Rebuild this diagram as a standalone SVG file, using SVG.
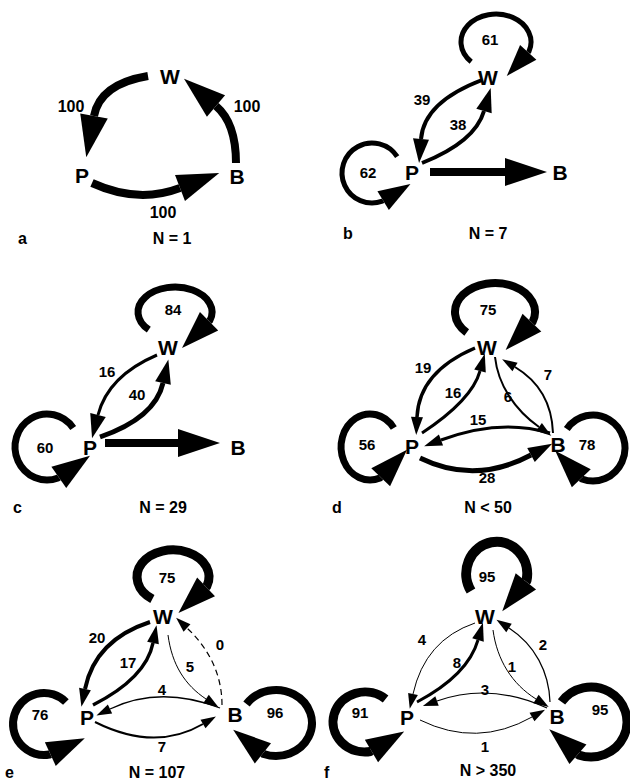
<svg xmlns="http://www.w3.org/2000/svg" width="630" height="783" viewBox="0 0 630 783">
<defs>
<style>
.n{font-family:"Liberation Sans",Arial,sans-serif;font-weight:bold;font-size:21px;text-anchor:middle;fill:#000}
.v{font-family:"Liberation Sans",Arial,sans-serif;font-weight:bold;font-size:15px;text-anchor:middle;fill:#000}
.t{font-family:"Liberation Sans",Arial,sans-serif;font-weight:bold;font-size:16px;fill:#000}
.e{fill:none;stroke:#000;stroke-linejoin:round}
.hXL{marker-end:url(#hXL)}
.hL{marker-end:url(#hL)}
.hM{marker-end:url(#hM)}
.hE{marker-end:url(#hE)}
.hF{marker-end:url(#hF)}
.hS{marker-end:url(#hS)}
</style>
<marker id="hXL" markerUnits="userSpaceOnUse" orient="auto" overflow="visible" markerWidth="1" markerHeight="1" refX="0" refY="0"><path d="M0,-14 L42,0 L0,14 z" fill="#000"/></marker>
<marker id="hL" markerUnits="userSpaceOnUse" orient="auto" overflow="visible" markerWidth="1" markerHeight="1" refX="0" refY="0"><path d="M0,-13 L38,0 L0,13 z" fill="#000"/></marker>
<marker id="hM" markerUnits="userSpaceOnUse" orient="auto" overflow="visible" markerWidth="1" markerHeight="1" refX="0" refY="0"><path d="M0,-11 L32,0 L0,11 z" fill="#000"/></marker>
<marker id="hE" markerUnits="userSpaceOnUse" orient="auto" overflow="visible" markerWidth="1" markerHeight="1" refX="0" refY="0"><path d="M0,-8 L24,0 L0,8 z" fill="#000"/></marker>
<marker id="hF" markerUnits="userSpaceOnUse" orient="auto" overflow="visible" markerWidth="1" markerHeight="1" refX="0" refY="0"><path d="M0,-6 L18,0 L0,6 z" fill="#000"/></marker>
<marker id="hS" markerUnits="userSpaceOnUse" orient="auto" overflow="visible" markerWidth="1" markerHeight="1" refX="0" refY="0"><path d="M0,-5 L15,0 L0,5 z" fill="#000"/></marker>
</defs>
<rect width="630" height="783" fill="#fff"/>

<!-- Panel a -->
<g id="panel-a">
<g id="a-connectors">
<path class="e hXL" stroke-width="8" d="M148,76 Q100,84 94,116"/>
<path class="e hXL" stroke-width="8" d="M236,163 Q236,123 216,106"/>
<path class="e hXL" stroke-width="8" d="M92,183 Q138,204 180,188"/>
<text class="v" style="font-size:16px" x="71" y="112">100</text>
<text class="v" style="font-size:16px" x="247" y="112">100</text>
<text class="v" style="font-size:16px" x="163" y="218">100</text>
</g>
<g id="a-W"><text class="n" x="170" y="84">W</text></g>
<g id="a-P"><text class="n" x="82" y="183">P</text></g>
<g id="a-B"><text class="n" x="237" y="184">B</text></g>
<text class="t" x="18" y="244">a</text>
<text class="t" x="172" y="244" text-anchor="middle">N = 1</text>
</g>

<!-- Panel b -->
<g id="panel-b">
<g id="b-connectors">
<path class="e hM" stroke-width="5" d="M471.2,61.8 A35,28 0 1 1 528.9,51.6 l-0.67,0.74"/>
<path class="e hM" stroke-width="5" d="M397.2,156.7 A30,30 0 1 0 382.3,201.2 l0.85,-0.52"/>
<path class="e hE" stroke-width="4" d="M482,80 Q424,102 421,139"/>
<path class="e hE" stroke-width="4" d="M422,163 Q475,142 484,111"/>
<path class="e hXL" stroke-width="8" d="M430,172 L505,172"/>
<text class="v" x="490" y="45">61</text>
<text class="v" x="368" y="178">62</text>
<text class="v" x="422" y="105">39</text>
<text class="v" x="458" y="130">38</text>
</g>
<g id="b-W"><text class="n" x="488" y="85">W</text></g>
<g id="b-P"><text class="n" x="412" y="180">P</text></g>
<g id="b-B"><text class="n" x="560" y="180">B</text></g>
<text class="t" x="343" y="239">b</text>
<text class="t" x="488" y="239" text-anchor="middle">N = 7</text>
</g>

<!-- Panel c -->
<g id="panel-c">
<g id="c-connectors">
<path class="e hL" stroke-width="7" d="M148.8,329.7 A37,25 0 1 1 209.8,320.6 l-0.71,0.70"/>
<path class="e hL" stroke-width="7" d="M73.2,428 A32,33 0 1 0 58,478 l0.82,-0.57"/>
<path class="e hE" stroke-width="3" d="M157,355 Q108,376 98,415"/>
<path class="e hE" stroke-width="5" d="M100,437 Q155,418 163,383"/>
<path class="e hXL" stroke-width="8" d="M105,443 L178,443"/>
<text class="v" x="173" y="315">84</text>
<text class="v" x="45" y="453">60</text>
<text class="v" x="107" y="377">16</text>
<text class="v" x="137" y="400">40</text>
</g>
<g id="c-W"><text class="n" x="168" y="355">W</text></g>
<g id="c-P"><text class="n" x="90" y="455">P</text></g>
<g id="c-B"><text class="n" x="238" y="455">B</text></g>
<text class="t" x="13" y="513">c</text>
<text class="t" x="163" y="513" text-anchor="middle">N = 29</text>
</g>

<!-- Panel d -->
<g id="panel-d">
<g id="d-connectors">
<path class="e hL" stroke-width="8" d="M466.7,332.5 A40,29 0 1 1 532.6,321.9 l-0.69,0.72"/>
<path class="e hL" stroke-width="7" d="M393.8,428 A29,33 0 1 0 380,478 l0.69,-0.72"/>
<path class="e hL" stroke-width="7" d="M566.8,429 A32,33 0 1 1 582,479 l-0.69,-0.73"/>
<path class="e hF" stroke-width="3.5" d="M475,348 Q419,372 417,417"/>
<path class="e hF" stroke-width="3" d="M422,433 Q472,400 480,371"/>
<path class="e hS" stroke-width="2" d="M495,357 C498,385 515,410 539,427"/>
<path class="e hS" stroke-width="2" d="M553,433 C552,405 540,382 515,367"/>
<path class="e hF" stroke-width="3" d="M550,433 Q500,418 441,440"/>
<path class="e hE" stroke-width="5" d="M420,458 Q475,485 531,455"/>
<text class="v" x="488" y="315">75</text>
<text class="v" x="367" y="450">56</text>
<text class="v" x="587" y="450">78</text>
<text class="v" x="423" y="373">19</text>
<text class="v" x="453" y="398">16</text>
<text class="v" x="508" y="402">6</text>
<text class="v" x="548" y="380">7</text>
<text class="v" x="478" y="425">15</text>
<text class="v" x="487" y="483">28</text>
</g>
<g id="d-W"><text class="n" x="487" y="355">W</text></g>
<g id="d-P"><text class="n" x="412" y="454">P</text></g>
<g id="d-B"><text class="n" x="558" y="452">B</text></g>
<text class="t" x="332" y="513">d</text>
<text class="t" x="488" y="513" text-anchor="middle">N &lt; 50</text>
</g>

<!-- Panel e -->
<g id="panel-e">
<g id="e-connectors">
<path class="e hL" stroke-width="9" d="M152.4,599 A36,27 0 1 1 206.8,586.2 l-0.73,0.69"/>
<path class="e hL" stroke-width="8" d="M65.9,702 A31,31 0 1 0 49.4,754.5 l0.91,-0.42"/>
<path class="e hL" stroke-width="8" d="M246.5,704 A36,33 0 1 1 263.7,754 l-0.78,-0.62"/>
<path class="e hF" stroke-width="4" d="M150,622 Q95,640 85,689"/>
<path class="e hF" stroke-width="3.5" d="M93,705 Q146,678 153,643"/>
<path class="e hS" stroke-width="1" d="M168,635 C172,665 185,685 206,699"/>
<path class="e hS" stroke-width="1.2" stroke-dasharray="6 4" d="M222,705 C222,670 205,645 187,628"/>
<path class="e hS" stroke-width="1.3" d="M220,708 Q160,685 110,709"/>
<path class="e hS" stroke-width="2" d="M95,722 Q155,752 203,724"/>
<text class="v" x="167" y="583">75</text>
<text class="v" x="40" y="720">76</text>
<text class="v" x="275" y="718">96</text>
<text class="v" x="97" y="643">20</text>
<text class="v" x="128" y="668">17</text>
<text class="v" x="190" y="672">5</text>
<text class="v" x="220" y="650">0</text>
<text class="v" x="162" y="695">4</text>
<text class="v" x="162" y="752">7</text>
</g>
<g id="e-W"><text class="n" x="163" y="624">W</text></g>
<g id="e-P"><text class="n" x="87" y="725">P</text></g>
<g id="e-B"><text class="n" x="235" y="722">B</text></g>
<text class="t" x="5" y="778">e</text>
<text class="t" x="157" y="778" text-anchor="middle">N = 107</text>
</g>

<!-- Panel f -->
<g id="panel-f">
<g id="f-connectors">
<path class="e hL" stroke-width="10" d="M471,591 A30.5,32 0 1 1 526.5,580.6 l-0.62,0.78"/>
<path class="e hL" stroke-width="9" d="M385.6,699 A32,30 0 1 0 370.6,751.5 l0.86,-0.51"/>
<path class="e hL" stroke-width="9" d="M561.5,701.9 A36,35 0 1 1 578.7,754.9 l-0.755,-0.655"/>
<path class="e hS" stroke-width="1" d="M475,623 Q425,640 413,694"/>
<path class="e hF" stroke-width="3" d="M417,702 Q468,675 478,640"/>
<path class="e hS" stroke-width="1" d="M493,630 C497,660 512,684 536,699"/>
<path class="e hS" stroke-width="1.2" d="M550,702 C549,672 535,645 509,628"/>
<path class="e hS" stroke-width="1.2" d="M547,708 Q490,682 437,701"/>
<path class="e hS" stroke-width="1" d="M420,720 Q477,748 532,717"/>
<text class="v" x="487" y="582">95</text>
<text class="v" x="360" y="718">91</text>
<text class="v" x="600" y="715">95</text>
<text class="v" x="422" y="645">4</text>
<text class="v" x="457" y="668">8</text>
<text class="v" x="512" y="672">1</text>
<text class="v" x="543" y="650">2</text>
<text class="v" x="485" y="695">3</text>
<text class="v" x="485" y="752">1</text>
</g>
<g id="f-W"><text class="n" x="485" y="624">W</text></g>
<g id="f-P"><text class="n" x="407" y="725">P</text></g>
<g id="f-B"><text class="n" x="557" y="724">B</text></g>
<text class="t" x="324" y="778">f</text>
<text class="t" x="488" y="776" text-anchor="middle">N &gt; 350</text>
</g>
</svg>
